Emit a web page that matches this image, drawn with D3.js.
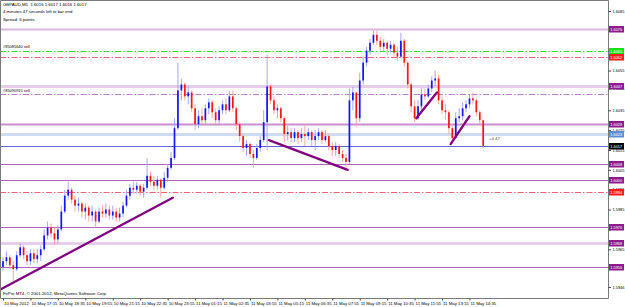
<!DOCTYPE html>
<html>
<head>
<meta charset="utf-8">
<script src="https://cdn.jsdelivr.net/npm/d3@7"></script>
<style>
  body { margin: 0; background: #fff; }
  svg { display: block; font-family: "Liberation Sans", Arial, sans-serif; }
</style>
</head>
<body>
<svg id="chart" width="625" height="307"></svg>
<script>
// GBPAUD M5 chart (drawn as 10 minute bars), 10 May 2012 15:55 -> 11 May 15:15
const startTime = "2012-05-10 15:55";
const barMinutes = 10;
const firstOpen = 1.5956;

const closes = [
  1.5959, 1.5961, 1.5957, 1.5955, 1.5962, 1.5966, 1.5962, 1.5959, 1.5963, 1.5960,
  1.5962, 1.5965, 1.5972, 1.5976, 1.5973, 1.5970, 1.5975, 1.5984, 1.5992, 1.5995,
  1.5990, 1.5987, 1.5988, 1.5984, 1.5986, 1.5982, 1.5984, 1.5979, 1.5984, 1.5983,
  1.5985, 1.5982, 1.5984, 1.5981, 1.5983, 1.5987, 1.5992, 1.5996, 1.5995, 1.5997,
  1.5994, 1.5996, 1.6002, 1.5999, 1.5997, 1.6000, 1.5996, 1.6001, 1.6006, 1.6011,
  1.6026, 1.6045, 1.6048, 1.6042, 1.6044, 1.6036, 1.6028, 1.6032, 1.6030, 1.6036,
  1.6039, 1.6034, 1.6030, 1.6035, 1.6038, 1.6035, 1.6042, 1.6036, 1.6028, 1.6022,
  1.6016, 1.6018, 1.6013, 1.6011, 1.6016, 1.6020, 1.6029, 1.6047, 1.6040, 1.6035,
  1.6036, 1.6031, 1.6023, 1.6024, 1.6021, 1.6024, 1.6021, 1.6023, 1.6022, 1.6024,
  1.6020, 1.6022, 1.6024, 1.6020, 1.6022, 1.6017, 1.6015, 1.6017, 1.6013, 1.6011,
  1.6009, 1.6040, 1.6044, 1.6031, 1.6050, 1.6059, 1.6065, 1.6069, 1.6073, 1.6070,
  1.6067, 1.6069, 1.6066, 1.6068, 1.6064, 1.6062, 1.6070, 1.6059, 1.6048, 1.6037,
  1.6031, 1.6037, 1.6043, 1.6042, 1.6046, 1.6050, 1.6051, 1.6040, 1.6035, 1.6034,
  1.6026, 1.6021, 1.6031, 1.6032, 1.6036, 1.6038, 1.6041, 1.6040, 1.6034, 1.6030,
  1.6017
];
const highs = [
  1.5961, 1.5964, 1.5962, 1.5959, 1.5964, 1.5968, 1.5967, 1.5964, 1.5965, 1.5965,
  1.5965, 1.5967, 1.5975, 1.5979, 1.5978, 1.5976, 1.5977, 1.5987, 1.5995, 1.5999,
  1.5996, 1.5992, 1.5991, 1.5989, 1.5988, 1.5987, 1.5987, 1.5985, 1.5986, 1.5987,
  1.5988, 1.5987, 1.5987, 1.5986, 1.5986, 1.5989, 1.5995, 1.5998, 1.5999, 1.5999,
  1.5998, 1.5998, 1.6011, 1.6004, 1.6002, 1.6002, 1.6001, 1.6004, 1.6008, 1.6014,
  1.6031, 1.6059, 1.6051, 1.6049, 1.6047, 1.6045, 1.6038, 1.6035, 1.6036, 1.6038,
  1.6041, 1.6040, 1.6036, 1.6037, 1.6040, 1.6041, 1.6045, 1.6045, 1.6037, 1.6029,
  1.6023, 1.6020, 1.6019, 1.6015, 1.6018, 1.6022, 1.6035, 1.6063, 1.6048, 1.6042,
  1.6038, 1.6037, 1.6032, 1.6027, 1.6026, 1.6026, 1.6025, 1.6026, 1.6028, 1.6026,
  1.6025, 1.6025, 1.6026, 1.6025, 1.6025, 1.6023, 1.6019, 1.6019, 1.6018, 1.6015,
  1.6013, 1.6046, 1.6047, 1.6043, 1.6054, 1.6062, 1.6067, 1.6071, 1.6075, 1.6075,
  1.6072, 1.6071, 1.6070, 1.6070, 1.6069, 1.6067, 1.6074, 1.6071, 1.6060, 1.6049,
  1.6040, 1.6040, 1.6046, 1.6046, 1.6048, 1.6052, 1.6055, 1.6053, 1.6042, 1.6038,
  1.6035, 1.6028, 1.6034, 1.6036, 1.6039, 1.6040, 1.6043, 1.6044, 1.6041, 1.6035,
  1.6030
];
const lows = [
  1.5954, 1.5957, 1.5955, 1.5949, 1.5954, 1.5961, 1.5960, 1.5957, 1.5957, 1.5958,
  1.5958, 1.5959, 1.5964, 1.5970, 1.5971, 1.5967, 1.5968, 1.5974, 1.5983, 1.5990,
  1.5988, 1.5984, 1.5984, 1.5981, 1.5980, 1.5979, 1.5979, 1.5976, 1.5978, 1.5981,
  1.5981, 1.5980, 1.5980, 1.5979, 1.5979, 1.5981, 1.5986, 1.5990, 1.5993, 1.5993,
  1.5992, 1.5991, 1.5995, 1.5997, 1.5995, 1.5995, 1.5991, 1.5995, 1.5999, 1.6005,
  1.6010, 1.6025, 1.6040, 1.6040, 1.6038, 1.6034, 1.6025, 1.6026, 1.6027, 1.6028,
  1.6033, 1.6031, 1.6027, 1.6028, 1.6033, 1.6033, 1.6034, 1.6034, 1.6025, 1.6019,
  1.6014, 1.6012, 1.6011, 1.6006, 1.6010, 1.6014, 1.6019, 1.6015, 1.6038, 1.6033,
  1.6031, 1.6029, 1.6019, 1.6020, 1.6019, 1.6019, 1.6018, 1.6019, 1.6017, 1.6020,
  1.6017, 1.6015, 1.6020, 1.6018, 1.6019, 1.6015, 1.6012, 1.6012, 1.6011, 1.6009,
  1.6006, 1.6008, 1.6035, 1.6027, 1.6029, 1.6048, 1.6057, 1.6063, 1.6068, 1.6068,
  1.6065, 1.6065, 1.6063, 1.6064, 1.6062, 1.6060, 1.6061, 1.6057, 1.6046, 1.6034,
  1.6029, 1.6030, 1.6035, 1.6040, 1.6041, 1.6044, 1.6047, 1.6038, 1.6033, 1.6030,
  1.6023, 1.6018, 1.6021, 1.6029, 1.6030, 1.6034, 1.6036, 1.6038, 1.6032, 1.6028,
  1.6016
];

// price axis (labels hidden under the price tags are left blank)
const priceTicks = [1.6085, 1.6075, 1.6065, 1.6055, 1.6046, 1.6035, 1.6025, 1.6015,
  1.6005, 1.5995, 1.5985, 1.5975, 1.5965, 1.5956, 1.5946];
const priceTickLabels = ["1.6085", "", "", "1.6055", "1.6046", "1.6035", "1.6025", "1.6015",
  "1.6005", "1.5995", "1.5985", "", "1.5965", "", "1.5946"];

// time axis
const timeTicks = ["2012-05-10 15:55", "2012-05-10 17:15", "2012-05-10 18:35", "2012-05-10 19:55",
  "2012-05-10 21:15", "2012-05-10 22:35", "2012-05-10 23:55", "2012-05-11 01:15", "2012-05-11 02:35",
  "2012-05-11 03:55", "2012-05-11 05:15", "2012-05-11 06:35", "2012-05-11 07:55", "2012-05-11 09:15",
  "2012-05-11 10:35", "2012-05-11 11:55", "2012-05-11 13:15", "2012-05-11 14:35"];
const timeTickLabels = ["10 May 2012", "10 May 17:15", "10 May 18:35", "10 May 19:55", "10 May 21:15",
  "10 May 22:35", "10 May 23:55", "11 May 01:15", "11 May 02:35", "11 May 03:55", "11 May 05:15",
  "11 May 06:35", "11 May 07:55", "11 May 09:15", "11 May 10:35", "11 May 11:55", "11 May 13:15",
  "11 May 14:35"];

// horizontal levels
const levelPrices = [1.6076, 1.6065, 1.6062, 1.6047, 1.6043, 1.6028, 1.6023, 1.6017,
  1.6008, 1.6000, 1.5994, 1.5976, 1.5968, 1.5956];
const levelKinds = ["band", "tp", "sl", "lightband", "order", "midband", "blueband", "bid",
  "level", "level", "sl", "level", "lightband", "level"];
const levelTags = ["1.6076", "1.6065", "1.6062", "1.6047", "", "1.6028", "1.6023", "1.6017",
  "1.6008", "1.6000", "1.5994", "1.5976", "1.5968", "1.5956"];

// trend lines: [start time, start price, end time, end price]
const trendLines = [
  ["2012-05-10 15:50", 1.5945, "2012-05-11 00:10", 1.5991],
  ["2012-05-11 04:50", 1.6020, "2012-05-11 08:40", 1.6005],
  ["2012-05-11 12:00", 1.6031, "2012-05-11 13:00", 1.6044],
  ["2012-05-11 13:40", 1.6018, "2012-05-11 14:35", 1.6032]
];

const orderNotes = [["#85085640 sell", 1.6065], ["#85090915 sell", 1.6043]];
const headerLines = ["GBPAUD,M5  1.6016 1.6017 1.6016 1.6017",
  "4 minutes 47 seconds left to bar end", "Spread: 6 points."];

const parseTime = d3.timeParse("%Y-%m-%d %H:%M");
const t0 = parseTime(startTime);
const bars = closes.map((c, i) => ({
  t: d3.timeMinute.offset(t0, i * barMinutes),
  o: i === 0 ? firstOpen : closes[i - 1],
  h: highs[i], l: lows[i], c: c
}));

const plotRight = 608, plotBottom = 298;
const svg = d3.select("#chart");
svg.append("rect").attr("width", 625).attr("height", 307).attr("fill", "#fff");

const x = d3.scaleTime()
  .domain([t0, bars[bars.length - 1].t])
  .range([3, 483.2]);
const y = d3.scaleLinear().domain([1.5945, 1.6085]).range([289, 11]);

const fs = 4.3;
const axisFs = 3.9;

// header text
svg.selectAll("text.head").data(headerLines).enter().append("text")
  .attr("class", "head")
  .attr("x", 3).attr("y", (d, i) => 5.8 + i * 7.4)
  .attr("font-size", fs).attr("fill", "#000")
  .style("white-space", "pre")
  .text(d => d);

// levels
const lineStyle = {
  band: { stroke: "#d9b6de", w: 2, dash: null },
  midband: { stroke: "#c98fcf", w: 2, dash: null },
  lightband: { stroke: "#e6cdeb", w: 3, dash: null },
  blueband: { stroke: "#cfdcf0", w: 3, dash: null },
  bid: { stroke: "#6464e6", w: 1, dash: null },
  level: { stroke: "#b064bd", w: 1, dash: null },
  tp: { stroke: "#33dd33", w: 1, dash: "6,2,1.5,2" },
  sl: { stroke: "#ec6478", w: 1, dash: "6,2,1.5,2" },
  order: { stroke: "#bb80ca", w: 1, dash: "6,2,1.5,2" }
};
levelPrices.forEach((p, i) => {
  const s = lineStyle[levelKinds[i]];
  svg.append("line")
    .attr("x1", 0).attr("x2", plotRight)
    .attr("y1", Math.round(y(p)) + 0.5).attr("y2", Math.round(y(p)) + 0.5)
    .attr("stroke", s.stroke).attr("stroke-width", s.w)
    .attr("stroke-dasharray", s.dash);
});

orderNotes.forEach(n => {
  svg.append("text").attr("x", 3).attr("y", y(n[1]) - 2.5)
    .attr("font-size", fs * 0.92).attr("fill", "#000").text(n[0]);
});

// candles
const bw = 1.7;
const candles = svg.append("g");
candles.selectAll("line").data(bars).enter().append("line")
  .attr("x1", d => x(d.t)).attr("x2", d => x(d.t))
  .attr("y1", d => y(d.h)).attr("y2", d => y(d.l))
  .attr("stroke", d => d.c >= d.o ? "#9c9cff" : "#ff9c9c")
  .attr("stroke-width", 0.9);
candles.selectAll("rect").data(bars).enter().append("rect")
  .attr("x", d => x(d.t) - bw / 2)
  .attr("width", bw)
  .attr("y", d => y(Math.max(d.o, d.c)))
  .attr("height", d => Math.max(1, Math.abs(y(d.o) - y(d.c))))
  .attr("fill", d => d.c >= d.o ? "#1414ff" : "#ff1414");

// trend lines
svg.selectAll("line.trend").data(trendLines).enter().append("line")
  .attr("class", "trend")
  .attr("x1", d => x(parseTime(d[0]))).attr("y1", d => y(d[1]))
  .attr("x2", d => x(parseTime(d[2]))).attr("y2", d => y(d[3]))
  .attr("stroke", "#800080").attr("stroke-width", 2.3).attr("stroke-linecap", "round");

svg.append("text").attr("x", 489).attr("y", y(1.6021) + 1.5)
  .attr("font-size", fs).attr("fill", "#555").text("+4.47");

svg.append("text").attr("x", 3).attr("y", 295)
  .attr("font-size", fs).attr("fill", "#000")
  .text("FxPro MT4, \u00a9 2001-2012, MetaQuotes Software Corp.");

// frame
svg.append("path")
  .attr("d", `M0.5,0.5H${plotRight + 0.5}V${plotBottom + 0.5}H0.5Z`)
  .attr("fill", "none").attr("stroke", "#7a7a7a").attr("stroke-width", 1);

// axes
const yAxis = d3.axisRight(y).tickValues(priceTicks).tickSize(2.5).tickPadding(1.5)
  .tickFormat((d, i) => priceTickLabels[i]);
const gy = svg.append("g").attr("transform", `translate(${plotRight + 0.5},0)`).call(yAxis);
gy.select(".domain").remove();
gy.selectAll("text").attr("font-size", axisFs).attr("fill", "#000").attr("font-family", null);
gy.selectAll("line").attr("stroke", "#444");

const xAxis = d3.axisBottom(x).tickValues(timeTicks.map(parseTime)).tickSize(2).tickPadding(1)
  .tickFormat((d, i) => timeTickLabels[i]);
const gx = svg.append("g").attr("transform", `translate(0,${plotBottom + 0.5})`).call(xAxis);
gx.select(".domain").remove();
gx.selectAll("text").attr("font-size", fs).attr("fill", "#000").attr("font-family", null)
  .attr("text-anchor", "start").attr("dx", 0.5);
gx.selectAll("line").attr("stroke", "#444");

// price tags on the axis
const tagFill = { band: "#8e1b8e", midband: "#8e1b8e", lightband: "#8e1b8e", level: "#8e1b8e",
  tp: "#19e019", sl: "#ff1a1a", blueband: "#5b8fd4", bid: "#000", order: "#8e1b8e" };
levelPrices.forEach((p, i) => {
  if (!levelTags[i]) return;
  const yy = Math.round(y(p));
  svg.append("rect").attr("x", plotRight + 1).attr("y", yy - 3)
    .attr("width", 15).attr("height", 6.5).attr("fill", tagFill[levelKinds[i]]);
  svg.append("text").attr("x", plotRight + 2.3).attr("y", yy + 1.6)
    .attr("font-size", axisFs).attr("fill", "#fff").text(levelTags[i]);
});
</script>
</body>
</html>
